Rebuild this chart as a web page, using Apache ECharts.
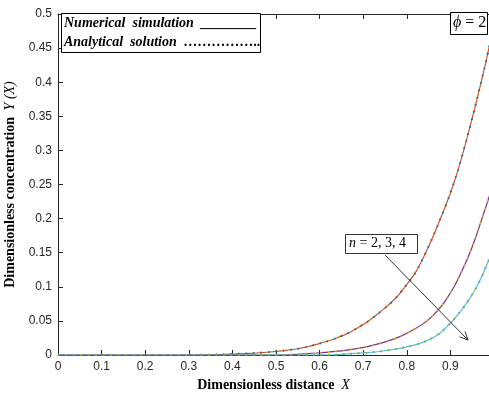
<!DOCTYPE html>
<html><head><meta charset="utf-8">
<script src="https://cdn.jsdelivr.net/npm/echarts@6/dist/echarts.min.js"></script>
<style>html,body{margin:0;padding:0;background:#fff}#c{width:489px;height:393px}</style>
</head><body><div id="c"></div>
<script>
// Data
const xTicks = [0, 0.1, 0.2, 0.3, 0.4, 0.5, 0.6, 0.7, 0.8, 0.9];
// n = 2
const xN2 = [0, 0.30, 0.38, 0.44, 0.486, 0.517, 0.547, 0.570, 0.593, 0.616, 0.639, 0.662, 0.685, 0.708, 0.731, 0.754, 0.777, 0.796, 0.819, 0.836, 0.857, 0.876, 0.897, 0.917, 0.936, 0.956, 0.978, 0.99];
const yN2 = [0, 0,    0.001,0.0024,0.0044,0.0063,0.0088,0.0117,0.0155,0.0198,0.025,0.031,0.039, 0.048, 0.059, 0.071, 0.085, 0.100, 0.120, 0.140, 0.169, 0.198, 0.232, 0.270, 0.313, 0.362, 0.420, 0.455];
// n = 3
const xN3 = [0, 0.52, 0.555, 0.593, 0.631, 0.670, 0.708, 0.739, 0.761, 0.784, 0.807, 0.838, 0.857, 0.880, 0.895, 0.911, 0.927, 0.943, 0.960, 0.974, 0.99];
const yN3 = [0, 0,    0.0015,0.0029,0.0049,0.0080,0.012,0.017, 0.0215,0.027, 0.034, 0.046, 0.056, 0.072, 0.086, 0.103, 0.124, 0.147, 0.176, 0.203, 0.234];
// n = 4
const xN4 = [0, 0.62, 0.670, 0.708, 0.746, 0.784, 0.807, 0.830, 0.853, 0.876, 0.899, 0.922, 0.937, 0.956, 0.972, 0.99];
const yN4 = [0, 0,    0.0019,0.0034,0.0059,0.0098,0.0130,0.017, 0.023, 0.032, 0.046, 0.063, 0.076, 0.095, 0.115, 0.142];

const pairs = (xs, ys) => xs.map((x, i) => [x, ys[i]]);
const serif = '"Liberation Serif","DejaVu Serif",serif';
const sans = '"Liberation Sans",Arial,sans-serif';

const chart = echarts.init(document.getElementById('c'));
function num(name, xs, ys, color) {
  return {name, type: 'line', data: pairs(xs, ys), smooth: 0.25, symbol: 'none',
    lineStyle: {color, width: 1.2}, z: 3};
}
function ana(name, xs, ys, color) {
  return {name, type: 'line', data: pairs(xs, ys), smooth: 0.25, symbol: 'none',
    lineStyle: {color, width: 2, type: [1.5, 6]}, z: 4};
}
const axisCol = '#262626';
chart.setOption({
  animation: false,
  grid: {left: 58, top: 14, right: 0, bottom: 38, outerBoundsMode: 'none', containLabel: false},
  xAxis: [{
    type: 'value', min: 0, max: 0.9886, interval: 0.1,
    axisLine: {lineStyle: {color: axisCol, width: 1}},
    axisTick: {inside: true, length: 5, lineStyle: {color: axisCol}},
    axisLabel: {color: axisCol, fontFamily: sans, fontSize: 12, margin: 6,
      formatter: v => (xTicks.some(t => Math.abs(t - v) < 1e-6) ? String(+v.toFixed(1)) : '')},
    splitLine: {show: false},
    name: '{b|Dimensionless distance}  {i|X}', nameLocation: 'middle', nameGap: 23,
    nameTextStyle: {rich: {
      b: {fontFamily: serif, fontWeight: 'bold', fontSize: 14, color: '#000'},
      i: {fontFamily: serif, fontStyle: 'italic', fontSize: 14, color: '#000'}}}
  }, {
    type: 'value', position: 'top', min: 0, max: 0.9886, interval: 0.1,
    axisLine: {show: true, lineStyle: {color: axisCol}},
    axisTick: {show: true, inside: true, length: 5, lineStyle: {color: axisCol}},
    axisLabel: {show: false}, splitLine: {show: false}
  }],
  yAxis: [{
    type: 'value', min: 0, max: 0.5, interval: 0.05,
    axisLine: {show: true, lineStyle: {color: axisCol}},
    axisTick: {show: true, inside: true, length: 5, lineStyle: {color: axisCol}},
    axisLabel: {color: axisCol, fontFamily: sans, fontSize: 12, margin: 6,
      formatter: v => String(+v.toFixed(2))},
    splitLine: {show: false},
    name: '{b|Dimensionless concentration}  {i|Y (X)}', nameLocation: 'middle', nameGap: 28,
    nameTextStyle: {rich: {
      b: {fontFamily: serif, fontWeight: 'bold', fontSize: 14, color: '#000'},
      i: {fontFamily: serif, fontStyle: 'italic', fontSize: 14, color: '#000'}}}
  }],
  series: [
    num('n=2 numerical', xN2, yN2, '#D95319'),
    ana('n=2 analytical', xN2, yN2, '#0072BD'),
    num('n=3 numerical', xN3, yN3, '#7E2F8E'),
    ana('n=3 analytical', xN3, yN3, '#EDB120'),
    num('n=4 numerical', xN4, yN4, '#4DBEEE'),
    ana('n=4 analytical', xN4, yN4, '#77AC30')
  ],
  graphic: [
    {type: 'rect', shape: {x: 61.5, y: 13.5, width: 199, height: 39},
     style: {fill: '#fff', stroke: '#000', lineWidth: 1}, z: 10},
    {type: 'text', left: 64, top: 16, z: 11,
     style: {text: 'Numerical  simulation  ________', fontFamily: serif, fontStyle: 'italic',
       fontWeight: 'bold', fontSize: 14, fill: '#000'}},
    {type: 'text', left: 64, top: 35, z: 11,
     style: {text: 'Analytical  solution  ……………..', fontFamily: serif, fontStyle: 'italic',
       fontWeight: 'bold', fontSize: 14, fill: '#000'}},
    {type: 'rect', shape: {x: 450.5, y: 12.5, width: 37, height: 22},
     style: {fill: '#fff', stroke: '#000', lineWidth: 1}, z: 10},
    {type: 'text', left: 453, top: 15, z: 11,
     style: {text: '{i|ϕ} = 2', rich: {i: {fontFamily: serif, fontStyle: 'italic', fontSize: 16, fill: '#000'}},
       fontFamily: serif, fontSize: 16, fill: '#000'}},
    {type: 'rect', shape: {x: 345.5, y: 234.5, width: 72, height: 19},
     style: {fill: '#fff', stroke: '#333', lineWidth: 1}, z: 10},
    {type: 'text', left: 349, top: 236, z: 11,
     style: {text: '{i|n} = 2, 3, 4', rich: {i: {fontFamily: serif, fontStyle: 'italic', fontSize: 14, fill: '#000'}},
       fontFamily: serif, fontSize: 14, fill: '#000'}},
    {type: 'line', shape: {x1: 385, y1: 255, x2: 468, y2: 340},
     style: {stroke: '#333', lineWidth: 1}, z: 10},
    {type: 'polyline', shape: {points: [[465, 331.5], [468, 340], [459.6, 336.8]]},
     style: {stroke: '#333', lineWidth: 1, fill: null}, z: 10}
  ]
});
</script></body></html>
